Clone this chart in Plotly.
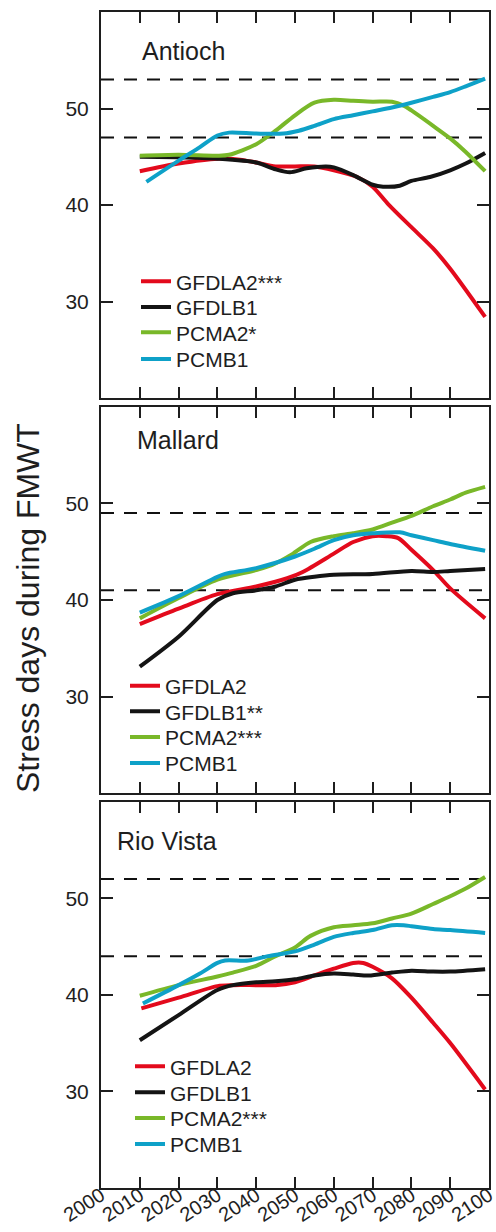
import plotly.graph_objects as go

# ---------------- data ----------------
stations = ["Antioch", "Mallard", "Rio Vista"]
series_keys = ["GFDLA2", "GFDLB1", "PCMA2", "PCMB1"]

legend_names = {
    "Antioch": ["GFDLA2***", "GFDLB1", "PCMA2*", "PCMB1"],
    "Mallard": ["GFDLA2", "GFDLB1**", "PCMA2***", "PCMB1"],
    "Rio Vista": ["GFDLA2", "GFDLB1", "PCMA2***", "PCMB1"],
}

thresholds = {
    "Antioch": [47, 53],
    "Mallard": [41, 49],
    "Rio Vista": [44, 52],
}

# Antioch
ant_gfdla2_x = [2010, 2020, 2030, 2035.8, 2040, 2045, 2050, 2055, 2060, 2066, 2070, 2074, 2080, 2085.6, 2090, 2099]
ant_gfdla2_y = [43.5, 44.3, 44.8, 44.7, 44.4, 44.0, 44.0, 44.0, 43.6, 42.9, 41.9, 40.1, 37.7, 35.5, 33.4, 28.4]
ant_gfdlb1_x = [2010, 2020, 2030, 2040, 2045, 2048.7, 2053, 2058, 2060, 2065, 2070, 2072.7, 2077, 2080, 2084.8, 2090, 2094, 2099]
ant_gfdlb1_y = [45.0, 44.95, 44.8, 44.4, 43.7, 43.4, 43.8, 44.0, 43.9, 43.1, 42.1, 41.9, 42.0, 42.5, 42.9, 43.6, 44.3, 45.4]
ant_pcma2_x = [2010, 2020, 2030, 2033, 2040, 2045, 2050, 2055, 2060, 2065, 2070, 2075, 2078, 2080, 2085.6, 2090, 2094, 2099]
ant_pcma2_y = [45.1, 45.2, 45.1, 45.2, 46.3, 47.7, 49.3, 50.6, 50.9, 50.8, 50.7, 50.7, 50.3, 49.8, 48.2, 46.9, 45.5, 43.5]
ant_pcmb1_x = [2011.7, 2020, 2025.5, 2030, 2033, 2040, 2047, 2051, 2055, 2060, 2065, 2070, 2075, 2080, 2085.6, 2090, 2094, 2099]
ant_pcmb1_y = [42.4, 44.6, 46.0, 47.2, 47.5, 47.4, 47.4, 47.7, 48.2, 48.9, 49.3, 49.7, 50.1, 50.6, 51.2, 51.7, 52.3, 53.1]

# Mallard
mal_gfdla2_x = [2010, 2020, 2030, 2040, 2048, 2052, 2060, 2065, 2070, 2073.6, 2076.6, 2080, 2085.6, 2090, 2099]
mal_gfdla2_y = [37.5, 39.1, 40.6, 41.4, 42.25, 42.9, 44.8, 46.0, 46.6, 46.6, 46.4, 45.2, 43.1, 41.2, 38.1]
mal_gfdlb1_x = [2010, 2020, 2030, 2034, 2040, 2045, 2050, 2055, 2060, 2070, 2080, 2085.6, 2090, 2099]
mal_gfdlb1_y = [33.1, 36.2, 40.0, 40.7, 41.0, 41.4, 42.1, 42.4, 42.6, 42.7, 43.0, 42.9, 43.0, 43.2]
mal_pcma2_x = [2010, 2020, 2030, 2040, 2044, 2049.5, 2054, 2060, 2065, 2070, 2075, 2080, 2085.6, 2090, 2094, 2099]
mal_pcma2_y = [38.1, 40.2, 42.1, 43.1, 43.6, 44.8, 46.0, 46.6, 46.9, 47.3, 48.0, 48.7, 49.7, 50.4, 51.1, 51.7]
mal_pcmb1_x = [2010, 2020, 2030, 2032, 2040, 2050, 2055, 2060, 2065, 2070, 2077, 2080, 2085.6, 2090, 2099]
mal_pcmb1_y = [38.7, 40.4, 42.4, 42.7, 43.3, 44.5, 45.3, 46.2, 46.7, 46.9, 47.0, 46.7, 46.2, 45.8, 45.1]

# Rio Vista
rio_gfdla2_x = [2010.4, 2020, 2030, 2034, 2040, 2045, 2050, 2055, 2060, 2065, 2067.6, 2070, 2075, 2080, 2085.6, 2090, 2099]
rio_gfdla2_y = [38.6, 39.7, 40.9, 41.0, 41.0, 41.0, 41.3, 42.0, 42.7, 43.3, 43.3, 42.9, 41.7, 39.7, 37.1, 35.0, 30.2]
rio_gfdlb1_x = [2010, 2020, 2030, 2034, 2040, 2045, 2050, 2055, 2060, 2065, 2069, 2075, 2080, 2085.6, 2090, 2099]
rio_gfdlb1_y = [35.3, 37.9, 40.5, 41.0, 41.3, 41.4, 41.6, 42.0, 42.2, 42.1, 42.0, 42.3, 42.5, 42.4, 42.4, 42.65]
rio_pcma2_x = [2010, 2020, 2030, 2034, 2040, 2045, 2050, 2054, 2060, 2065, 2070, 2075, 2080, 2085.6, 2090, 2094, 2099]
rio_pcma2_y = [39.9, 41.0, 41.9, 42.3, 43.0, 44.0, 44.9, 46.1, 47.0, 47.2, 47.4, 47.9, 48.4, 49.4, 50.2, 51.0, 52.2]
rio_pcmb1_x = [2010.8, 2020, 2025.5, 2030, 2032, 2038, 2043, 2050, 2055, 2060, 2065, 2070, 2075, 2078, 2080, 2085.6, 2090, 2099]
rio_pcmb1_y = [39.1, 41.0, 42.2, 43.3, 43.55, 43.55, 44.0, 44.5, 45.2, 46.0, 46.4, 46.7, 47.2, 47.2, 47.1, 46.8, 46.7, 46.4]

data = {
    "Antioch": [(ant_gfdla2_x, ant_gfdla2_y), (ant_gfdlb1_x, ant_gfdlb1_y),
                (ant_pcma2_x, ant_pcma2_y), (ant_pcmb1_x, ant_pcmb1_y)],
    "Mallard": [(mal_gfdla2_x, mal_gfdla2_y), (mal_gfdlb1_x, mal_gfdlb1_y),
                (mal_pcma2_x, mal_pcma2_y), (mal_pcmb1_x, mal_pcmb1_y)],
    "Rio Vista": [(rio_gfdla2_x, rio_gfdla2_y), (rio_gfdlb1_x, rio_gfdlb1_y),
                  (rio_pcma2_x, rio_pcma2_y), (rio_pcmb1_x, rio_pcmb1_y)],
}

x_ticks = list(range(2000, 2101, 10))
y_ticks = [30, 40, 50]
y_title = "Stress days during FMWT"

# ---------------- style / layout ----------------
colors = ["#E30A1C", "#141414", "#79B829", "#0EA1C8"]
FONT = "Liberation Sans, Arial, Helvetica, sans-serif"
INK = "#1e1e1e"

W, H = 496, 1232
ML, MR, MT, MB = 101, 7, 12, 44
PW, PH = W - ML - MR, H - MT - MB

def px_to_paper_y(py):
    return (H - MB - py) / PH

def px_to_paper_x(px):
    return (px - ML) / PW

panel_px = [(12, 398), (406.7, 793.3), (801.6, 1188)]
domains = [[px_to_paper_y(b), min(1.0, px_to_paper_y(t))] for t, b in panel_px]

title_pos = [(0.10, 0.90), (0.088, 0.915), (0.036, 0.898)]
legend_origin_px = [136, 125, 130]
legend_centers_px = [
    [281.7, 307.3, 332.7, 359.3],
    [686.0, 711.7, 737.3, 763.3],
    [1066.7, 1092.7, 1118.3, 1144.3],
]

fig = go.Figure()
layout = dict(
    width=W, height=H,
    margin=dict(l=ML, r=MR, t=MT, b=MB, pad=0, autoexpand=False),
    paper_bgcolor="white", plot_bgcolor="white",
    font=dict(family=FONT, color=INK, size=20),
    showlegend=True,
)

annotations = []
leg_idx = 0
for i, st in enumerate(stations):
    n = i + 1
    xa = "x" if n == 1 else f"x{n}"
    ya = "y" if n == 1 else f"y{n}"
    # threshold dashed lines
    for th in thresholds[st]:
        fig.add_trace(go.Scatter(
            x=[x_ticks[0], x_ticks[-1]], y=[th, th], mode="lines",
            line=dict(color="#111111", width=2, dash="13px,10px"),
            showlegend=False, hoverinfo="skip", xaxis=xa, yaxis=ya))
    for j, (xs, ys) in enumerate(data[st]):
        leg_idx += 1
        lname = "legend" if leg_idx == 1 else f"legend{leg_idx}"
        fig.add_trace(go.Scatter(
            x=xs, y=ys, mode="lines", name=legend_names[st][j],
            line=dict(color=colors[j], width=4, shape="spline", smoothing=0.8),
            xaxis=xa, yaxis=ya, legend=lname, showlegend=True))
        layout[lname] = dict(
            x=px_to_paper_x(legend_origin_px[i]), xanchor="left",
            y=px_to_paper_y(legend_centers_px[i][j]), yanchor="middle",
            bgcolor="rgba(0,0,0,0)", borderwidth=0,
            font=dict(family=FONT, size=21, color=INK),
        )

    xkey = "xaxis" if n == 1 else f"xaxis{n}"
    ykey = "yaxis" if n == 1 else f"yaxis{n}"
    layout[xkey] = dict(
        domain=[0, 1], anchor=ya, range=[2000, 2100],
        tickvals=x_ticks, ticks="inside", ticklen=11, tickwidth=2, tickcolor=INK,
        showline=True, linecolor=INK, linewidth=2, mirror="ticks",
        showgrid=False, zeroline=False, automargin=False,
        showticklabels=(n == 3), tickangle=-33,
        ticklabeloverflow="allow", ticklabelstandoff=-14,
        tickfont=dict(family=FONT, size=20, color=INK),
    )
    layout[ykey] = dict(
        domain=domains[i], anchor=xa, range=[20, 60],
        tickvals=y_ticks, ticks="inside", ticklen=12, tickwidth=2, tickcolor=INK,
        showline=True, linecolor=INK, linewidth=2, mirror="ticks",
        showgrid=False, zeroline=False, automargin=False,
        tickfont=dict(family=FONT, size=21, color=INK),
        ticklabelstandoff=6,
    )
    if n > 1:
        layout[xkey]["matches"] = "x"
    tx, ty = title_pos[i]
    annotations.append(dict(
        text=st, xref=f"{xa} domain", yref=f"{ya} domain", x=tx, y=ty,
        xanchor="left", yanchor="middle", showarrow=False,
        font=dict(family=FONT, size=25, color=INK)))

annotations.append(dict(
    text=y_title, xref="paper", yref="paper",
    x=px_to_paper_x(28), y=px_to_paper_y(608),
    xanchor="center", yanchor="middle", textangle=-90, showarrow=False,
    font=dict(family=FONT, size=32, color=INK)))

layout["annotations"] = annotations
fig.update_layout(**layout)
fig.write_html(
    "out.html",
    config={"displayModeBar": False},
    post_script="document.body.style.margin='0';document.body.style.padding='0';",
)
